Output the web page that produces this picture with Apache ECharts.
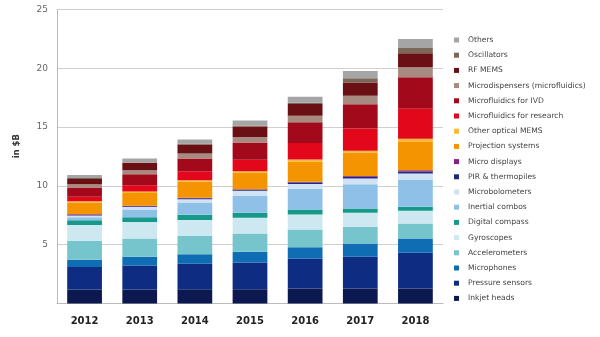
<!DOCTYPE html>
<html>
<head>
<meta charset="utf-8">
<script src="https://cdn.jsdelivr.net/npm/echarts@6/dist/echarts.min.js"></script>
<style>
  html, body { margin: 0; padding: 0; background: #fff; }
  #chart { width: 600px; height: 337px; }
</style>
</head>
<body>
<div id="chart"></div>
<script>
// MEMS market by application, in billions of US dollars
const years = ['2012', '2013', '2014', '2015', '2016', '2017', '2018'];
const yTicks = [5, 10, 15, 20, 25];

const inkjetHeads      = [1.20, 1.20, 1.22, 1.22, 1.28, 1.28, 1.28];
const pressureSensors  = [1.90, 2.00, 2.15, 2.27, 2.55, 2.69, 3.03];
const microphones      = [0.63, 0.78, 0.82, 0.91, 0.96, 1.13, 1.22];
const accelerometers   = [1.60, 1.55, 1.56, 1.56, 1.50, 1.42, 1.28];
const gyroscopes       = [1.35, 1.40, 1.36, 1.33, 1.28, 1.19, 1.08];
const digitalCompass   = [0.40, 0.40, 0.43, 0.43, 0.42, 0.37, 0.34];
const inertialCombos   = [0.25, 0.66, 1.05, 1.42, 1.77, 2.07, 2.32];
const microbolometers  = [0.15, 0.22, 0.28, 0.45, 0.40, 0.48, 0.51];
const pirThermopiles   = [0.05, 0.06, 0.07, 0.08, 0.12, 0.14, 0.17];
const microDisplays    = [0.05, 0.05, 0.05, 0.05, 0.07, 0.08, 0.10];
const projection       = [1.00, 1.08, 1.36, 1.40, 1.72, 1.98, 2.41];
const otherOptical     = [0.12, 0.13, 0.12, 0.12, 0.17, 0.15, 0.26];
const fluidicsResearch = [0.38, 0.52, 0.77, 0.99, 1.40, 1.90, 2.55];
const fluidicsIVD      = [0.78, 0.95, 1.10, 1.45, 1.77, 2.07, 2.69];
const microdispensers  = [0.28, 0.34, 0.42, 0.48, 0.55, 0.71, 0.85];
const rfMems           = [0.45, 0.60, 0.77, 0.90, 1.00, 1.13, 1.19];
const oscillators      = [0.08, 0.06, 0.07, 0.08, 0.12, 0.37, 0.45];
const others           = [0.25, 0.32, 0.35, 0.43, 0.50, 0.62, 0.77];

// stacked bottom to top
const segments = [
  ['Inkjet heads', inkjetHeads, '#0c1850'],
  ['Pressure sensors', pressureSensors, '#0e2d82'],
  ['Microphones', microphones, '#0f6db4'],
  ['Accelerometers', accelerometers, '#76c4cc'],
  ['Gyroscopes', gyroscopes, '#cde8f0'],
  ['Digital compass', digitalCompass, '#17998a'],
  ['Inertial combos', inertialCombos, '#8fc0e8'],
  ['Microbolometers', microbolometers, '#cfe3f5'],
  ['PIR & thermopiles', pirThermopiles, '#1e2a78'],
  ['Micro displays', microDisplays, '#8a1c88'],
  ['Projection systems', projection, '#f39400'],
  ['Other optical MEMS', otherOptical, '#f8b934'],
  ['Microfluidics for research', fluidicsResearch, '#e2071b'],
  ['Microfluidics for IVD', fluidicsIVD, '#a20a1c'],
  ['Microdispensers (microfluidics)', microdispensers, '#a88b80'],
  ['RF MEMS', rfMems, '#6a0f14'],
  ['Oscillators', oscillators, '#7b6658'],
  ['Others', others, '#a5a5a5']
];

const font = 'DejaVu Sans, Verdana, sans-serif';
const chart = echarts.init(document.getElementById('chart'));

chart.setOption({
  animation: false,
  backgroundColor: '#fff',
  grid: { left: 57, right: 157, top: 9.5, bottom: 33.5 },
  legend: {
    orient: 'vertical',
    left: 449,
    top: 30,
    icon: 'rect',
    itemWidth: 5,
    itemHeight: 5,
    itemGap: 5.2,
    data: segments.map(s => s[0]).reverse(),
    textStyle: { fontFamily: font, fontSize: 7.6, color: '#444', lineHeight: 10, padding: [0, 0, 0, 4] }
  },
  xAxis: {
    type: 'category',
    data: years,
    axisTick: { show: false },
    axisLine: { lineStyle: { color: '#bbb' } },
    axisLabel: { fontFamily: font, fontSize: 10, fontWeight: 'bold', color: '#222', margin: 13 }
  },
  yAxis: {
    type: 'value',
    min: 0,
    max: 25,
    interval: 5,
    axisLine: { show: true, lineStyle: { color: '#bbb' } },
    axisTick: { show: false },
    splitLine: { lineStyle: { color: '#cfcfcf' } },
    axisLabel: {
      fontFamily: font, fontSize: 9, color: '#666', margin: 9,
      formatter: v => (yTicks.indexOf(v) >= 0 ? String(v) : '')
    }
  },
  graphic: [{
    type: 'text',
    left: 12,
    top: 134,
    rotation: Math.PI / 2,
    style: { text: 'in $B', font: 'bold 8.5px ' + font, fill: '#333' }
  }],
  series: segments.map(([name, values, color]) => ({
    name,
    type: 'bar',
    stack: 'total',
    barWidth: '63%',
    data: values,
    itemStyle: { color },
    emphasis: { disabled: true }
  }))
});
</script>
</body>
</html>
